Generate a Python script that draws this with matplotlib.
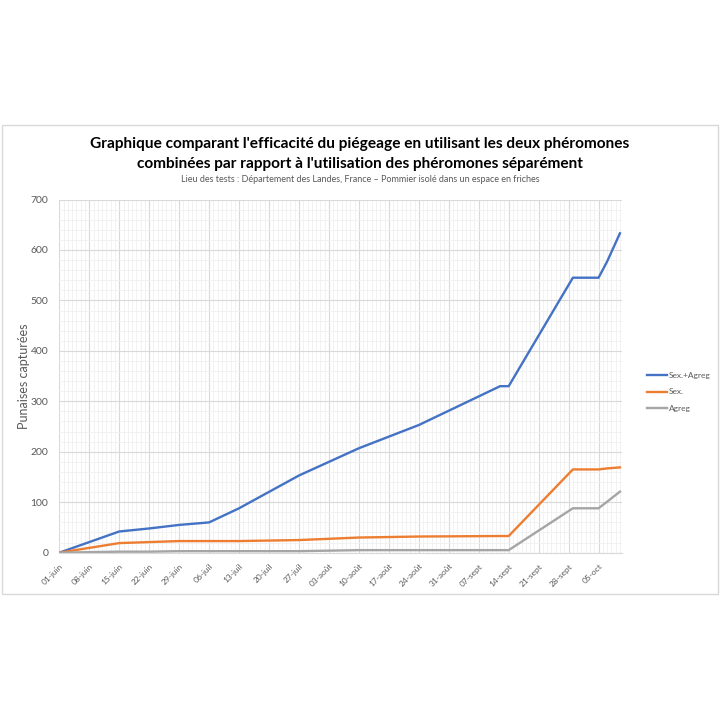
import matplotlib.pyplot as plt
import matplotlib.dates as mdates
import numpy as np
from matplotlib.patches import Rectangle

# dates des relevés
dates = np.array(['2021-06-01', '2021-06-15', '2021-06-22', '2021-06-29',
                  '2021-07-06', '2021-07-13', '2021-07-27', '2021-08-10',
                  '2021-08-24', '2021-09-12', '2021-09-14', '2021-09-29',
                  '2021-10-05', '2021-10-07', '2021-10-10'], dtype='datetime64[D]')

sex_agreg = [0, 42, 48, 55, 60, 88, 153, 207, 253, 330, 330, 545, 545, 577, 633]
sex = [0, 19, 21, 23, 23, 23, 25, 30, 32, 33, 33, 165, 165, 167, 169]
agreg = [0, 2, 2, 3, 3, 3, 3, 5, 5, 5, 5, 88, 88, 101, 121]

series_names = ['Sex.+Agreg', 'Sex.', 'Agreg']
COLORS = ['#4472C4', '#ED7D31', '#A5A5A5']
MOIS = {6: 'juin', 7: 'juil', 8: 'août', 9: 'sept', 10: 'oct'}

plt.rcParams['font.family'] = ['Lato', 'DejaVu Sans']

fig = plt.figure(figsize=(7.2, 7.2), dpi=100)
ax = fig.add_axes([0.0824, 0.2324, 0.7816, 0.4905])

# cadre de la zone graphique
fig.patches.append(Rectangle((0.003, 0.175), 0.994, 0.652, transform=fig.transFigure,
                             fill=False, edgecolor='#d9d9d9', linewidth=1))

for vals, name, c in zip([sex_agreg, sex, agreg], series_names, COLORS):
    ax.plot(dates, vals, color=c, linewidth=1.7, label=name, solid_joinstyle='round')

ax.set_ylim(0, 700)
ax.set_xlim(dates[0], dates[-1] + np.timedelta64(12, 'h'))
ax.set_yticks(np.arange(0, 701, 100))
ax.set_yticks(np.arange(0, 701, 20), minor=True)

ticks = np.arange(dates[0], np.datetime64('2021-10-06'), 7)
ax.set_xticks(ticks)
labels = []
for t in ticks.astype(object):
    labels.append(f"{t.day:02d}-{MOIS[t.month]}")
ax.set_xticklabels(labels, rotation=45, ha='right', rotation_mode='anchor')
ax.xaxis.set_minor_locator(mdates.DayLocator())

ax.grid(True, which='major', color='#d9d9d9', linewidth=0.8)
ax.grid(True, which='minor', color='#f0f0f0', linewidth=0.6)
ax.set_axisbelow(True)
ax.tick_params(which='both', length=0)
ax.tick_params(axis='x', labelsize=6, colors='#595959', pad=7)
ax.tick_params(axis='y', labelsize=7.5, colors='#595959', pad=8)
for s in ['top', 'right', 'left']:
    ax.spines[s].set_visible(False)
ax.spines['bottom'].set_color('#d9d9d9')

ax.set_ylabel('Punaises capturées', fontsize=9, color='#595959', labelpad=0)

fig.text(0.5, 0.800, "Graphique comparant l'efficacité du piégeage en utilisant les deux phéromones",
         ha='center', va='center', fontsize=11.1, fontweight='bold', color='#000000')
fig.text(0.5, 0.772, "combinées par rapport à l'utilisation des phéromones séparément",
         ha='center', va='center', fontsize=11.1, fontweight='bold', color='#000000')
fig.text(0.5, 0.751, "Lieu des tests : Département des Landes, France – Pommier isolé dans un espace en friches",
         ha='center', va='center', fontsize=6.5, color='#595959')

leg = ax.legend(loc='center left', bbox_to_anchor=(1.031, 0.455), frameon=False,
                fontsize=6, handlelength=2.4, handletextpad=0.2, labelspacing=1.1)
for t in leg.get_texts():
    t.set_color('#595959')

fig.savefig('out.png', dpi=100, facecolor='white')
